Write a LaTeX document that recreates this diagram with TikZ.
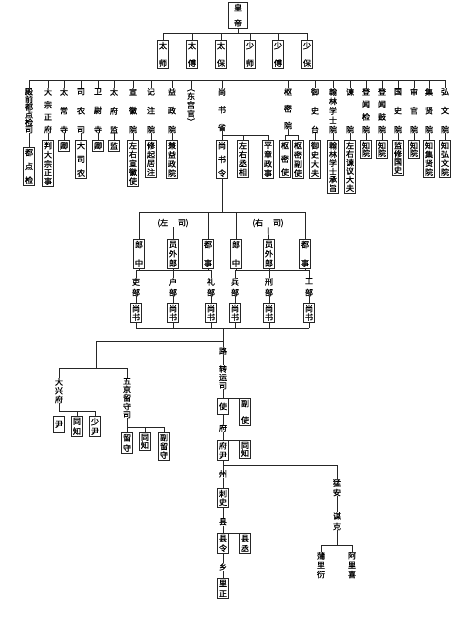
\documentclass[tikz,border=0pt]{standalone}
\usepackage{fontspec}
\setmainfont{Noto Sans CJK SC}
\newfontfamily\cjkb{Noto Sans CJK SC}[FakeBold=0.8]
\usetikzlibrary{positioning,calc}
\newdimen\pxu \pxu=0.03cm
\newcommand\colt[2]{\vbox to #1{\offinterlineskip\vskip0pt plus 1fil\edef\tmpc{#2}\expandafter\colfirst\tmpc\relax\vskip0pt plus 1fil\kern0pt}}
\newcommand\colfirst[1]{\hbox to 1em{\hss#1\hss}\colrest}
\newcommand\colrest[1]{\ifx#1\relax\else\vskip0pt plus 1fill\hbox to 1em{\hss#1\hss}\expandafter\colrest\fi}
\tikzset{
	ln/.style={draw=black!85,line width=0.6pt},
	bx/.style={draw=black!85,line width=0.6pt,inner xsep=1.4pt,inner ysep=1.3pt,font=\cjkb\fontsize{6.9}{7}\selectfont},
	lb/.style={inner sep=0pt,font=\cjkb\fontsize{6.9}{7}\selectfont},
}

\begin{document}
\begin{tikzpicture}[x=0.03cm,y=-0.03cm]
	\fill[white] (0,0) rectangle (474,622);
	\coordinate (tb) at (0,33);
	\coordinate (bus) at (0,80);
	\coordinate (sb) at (0,135);
	\coordinate (mb) at (0,212);
	\coordinate (ub) at (0,270);
	\coordinate (bb) at (0,328);
	\coordinate (jn) at (223,341);
	\coordinate (lbj) at (96,368);
	\coordinate (db) at (0,411);
	\coordinate (wb) at (0,427);
	\coordinate (rbus) at (0,465);
	\coordinate (kb) at (0,545);
	\node[bx,anchor=north,minimum width=0.57cm] (hd) at (238,2) {\colt{23\pxu}{皇帝}};
	\foreach \x/\t [count=\i] in {163/太师,192/太傅,221/太保,250/少师,278/少傅,307/少保}
	\node[bx,anchor=north] (s\i) at (\x,40) {\colt{25\pxu}{\t}};
	\draw[ln] (hd) -- (hd.south |- tb);
	\draw[ln] (s1.north) -- (s1.north |- tb) -- (s6.north |- tb) -- (s6.north);
	\foreach \i in {2,...,5} \draw[ln] (s\i.north) -- (s\i.north |- tb);
	\foreach \x/\lab/\bt/\bh/\btxt [count=\i] in {
		29/殿前都点检司/147/35/都点检,
		48/大宗正府/140/43/判大宗正事,
		64/太常寺/140/8/卿,
		81/司农司/140/35/大司农,
		98/卫尉寺/140/8/卿,
		114/太府监/140/8/监,
		133/宣徽院/140/43/左右宣徽使,
		151/记注院/140/34/修起居注,
		172/益政院/140/35/兼益政院,
		315/御史台/140/35/御史大夫,
		333/翰林学士院/140/50/翰林学士承旨,
		350/谏院/140/50/左右谏议大夫,
		366/登闻检院/140/15/知院,
		382/登闻鼓院/140/15/知院,
		398/国史院/140/32/监修国史,
		414/审官院/140/15/知院,
		429/集贤院/140/34/知集贤院,
		445/弘文院/140/34/知弘文院}
	{
		\node[lb,anchor=north] (c\i) at (\x,88) {\colt{45\pxu}{\lab}};
		\node[bx,anchor=north] (b\i) at (\x,\bt) {\colt{\bh\pxu}{\btxt}};
		\draw[ln] (c\i.north) -- (c\i.north |- bus);
		\draw[ln] (c\i) -- (b\i);
	}
	\draw[ln] (c1.north |- bus) -- (c18.north |- bus);
	\node[lb,anchor=north] (dg) at (191,89) {\colt{36\pxu}{︵东宫官︶}};
	\draw[ln] (dg.north) -- (dg.north |- bus);
	\node[lb,anchor=north] (sss) at (222,88) {\colt{43\pxu}{尚书省}};
	\node[bx,anchor=north] (ssl) at (222,140) {\colt{35\pxu}{尚书令}};
	\node[bx,anchor=north] (zyc) at (243,140) {\colt{34\pxu}{左右丞相}};
	\node[bx,anchor=north] (pz) at (268,140) {\colt{35\pxu}{平章政事}};
	\draw[ln] (sss.north) -- (sss.north |- bus);
	\draw[ln] (sss) -- (ssl);
	\draw[ln] (sss.south |- sb) -| (pz.north);
	\draw[ln] (zyc.north) -- (zyc.north |- sb);
	\node[lb,anchor=north] (smy) at (288,88) {\colt{41\pxu}{枢密院}};
	\node[bx,anchor=north] (smsh) at (285,140) {\colt{34\pxu}{枢密使}};
	\node[bx,anchor=north] (smfs) at (298,140) {\colt{35\pxu}{枢密副使}};
	\draw[ln] (smy.north) -- (smy.north |- bus);
	\draw[ln] (smy) -- (smy.south |- sb);
	\draw[ln] (smsh.north) |- (smfs.north |- sb) -- (smfs.north);
	\node[lb] (zs) at (173,223) {(左\hspace{1.2em}司)};
	\node[lb] (ys) at (268,223) {(右\hspace{1.2em}司)};
	\foreach \x/\t [count=\i] in {139/郎中,173/员外郎,208/都事,236/郎中,269/员外郎,305/都事}
	\node[bx,anchor=north] (g\i) at (\x,239) {\colt{26\pxu}{\t}};
	\foreach \x/\t [count=\i] in {136/吏部,173/户部,211/礼部,235/兵部,269/刑部,309/工部}
	{
		\node[lb,anchor=north] (bu\i) at (\x,278) {\colt{18\pxu}{\t}};
		\node[bx,anchor=north] (sh\i) at (\x,303) {\colt{16\pxu}{尚书}};
		\draw[ln] (g\i.south) -- (g\i.south |- ub);
		\draw[ln] (bu\i.north) -- (bu\i.north |- ub);
		\draw[ln] (bu\i) -- (sh\i);
		\draw[ln] (sh\i.south) -- (sh\i.south |- bb);
	}
	\draw[ln] (ssl) -- (ssl.south |- mb);
	\draw[ln] (g1.north) -- (g1.north |- mb) -- (g6.north |- mb) -- (g6.north);
	\draw[ln] (g3.north) -- (g3.north |- mb);
	\draw[ln] (g4.north) -- (g4.north |- mb);
	\draw[ln] (zs) -- (g2);
	\draw[ln] (ys) -- (g5);
	\draw[ln] (bu1.north |- ub) -- (bu3.north |- ub);
	\draw[ln] (bu4.north |- ub) -- (bu6.north |- ub);
	\draw[ln] (sh1.south |- bb) -- (sh6.south |- bb);
	\node[lb,anchor=north] (dxf) at (59,378) {\colt{25\pxu}{大兴府}};
	\node[lb,anchor=north] (wjl) at (127,378) {\colt{40\pxu}{五京留守司}};
	\draw[ln] (jn) -| (lbj);
	\draw[ln] (dxf.north) -- (dxf.north |- lbj) -- (wjl.north |- lbj) -- (wjl.north);
	\node[bx,anchor=north] (yin) at (59,416) {\colt{13\pxu}{尹}};
	\node[bx,anchor=north] (dt) at (77,416) {\colt{17\pxu}{同知}};
	\node[bx,anchor=north] (sy) at (95,416) {\colt{17\pxu}{少尹}};
	\draw[ln] (dxf) -- (dxf.south |- db);
	\draw[ln] (yin.north |- db) -- (sy.north |- db) -- (sy.north);
	\draw[ln] (dt.north) -- (dt.north |- db);
	\node[bx,anchor=north] (ls) at (127,432) {\colt{18\pxu}{留守}};
	\node[bx,anchor=north] (wt) at (145,432) {\colt{15\pxu}{同知}};
	\node[bx,anchor=north] (fls) at (164,432) {\colt{25\pxu}{副留守}};
	\draw[ln] (wjl) -- (ls);
	\draw[ln] (ls.north |- wb) -- (fls.north |- wb) -- (fls.north);
	\draw[ln] (wt.north) -- (wt.north |- wb);
	\node[lb,anchor=north] (lu) at (223,347) {路};
	\node[lb,anchor=north] (zys) at (223,365) {\colt{24\pxu}{转运司}};
	\node[bx,anchor=north] (shi) at (223,398) {\colt{13\pxu}{使}};
	\node[bx,anchor=north] (fs) at (245,398) {\colt{24\pxu}{副使}};
	\node[lb,anchor=north] (fu) at (223,424) {府};
	\node[bx,anchor=north] (fy) at (223,440) {\colt{17\pxu}{府尹}};
	\node[bx,anchor=north] (ft) at (245,440) {\colt{15\pxu}{同知}};
	\node[lb,anchor=north] (zhou) at (223,470) {州};
	\node[bx,anchor=north] (cs) at (223,488) {\colt{16\pxu}{刺史}};
	\node[lb,anchor=north] (xian) at (223,518) {县};
	\node[bx,anchor=north] (xl) at (223,533) {\colt{17\pxu}{县令}};
	\node[bx,anchor=north] (xc) at (245,533) {\colt{17\pxu}{县丞}};
	\node[lb,anchor=north] (xiang) at (223,563) {乡};
	\node[bx,anchor=north] (lz) at (223,578) {\colt{17\pxu}{里正}};
	\draw[ln] (jn |- bb) -- (lu);
	\draw[ln] (lu) -- (zys);
	\draw[ln] (zys) -- (shi);
	\draw[ln] (shi.north) -- (fs.north west);
	\draw[ln] (shi) -- (fu);
	\draw[ln] (fu) -- (fy);
	\draw[ln] (fy.north) -- (ft.north west);
	\draw[ln] (fy) -- (zhou);
	\draw[ln] (zhou) -- (cs);
	\draw[ln] (cs) -- (xian);
	\draw[ln] (xian) -- (xl);
	\draw[ln] (xl.north) -- (xc.north west);
	\draw[ln] (xl) -- (xiang);
	\draw[ln] (xiang) -- (lz);
	\node[lb,anchor=north] (mengan) at (337,479) {\colt{17\pxu}{猛安}};
	\node[lb,anchor=north] (mk) at (337,512) {\colt{18\pxu}{谋克}};
	\node[lb,anchor=north] (plv) at (321,552) {\colt{26\pxu}{蒲里衍}};
	\node[lb,anchor=north] (alx) at (352,552) {\colt{26\pxu}{阿里喜}};
	\draw[ln] (fy.south |- rbus) -| (mengan.north);
	\draw[ln] (mengan) -- (mk);
	\draw[ln] (mk) -- (mk.south |- kb);
	\draw[ln] (plv.north) -- (plv.north |- kb) -- (alx.north |- kb) -- (alx.north);
\end{tikzpicture}
\end{document}
